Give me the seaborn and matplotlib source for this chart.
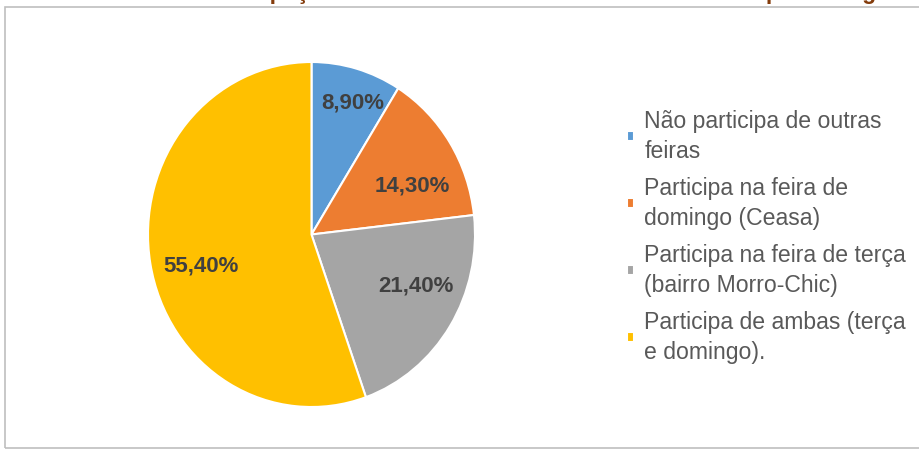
import matplotlib
matplotlib.use("Agg")
import numpy as np
import matplotlib.pyplot as plt
import matplotlib.patches as mpatches
import seaborn as sns

categories = [
    "Não participa de outras\nfeiras",
    "Participa na feira de\ndomingo (Ceasa)",
    "Participa na feira de terça\n(bairro Morro-Chic)",
    "Participa de ambas (terça\ne domingo).",
]
values = [8.9, 14.3, 21.4, 55.4]
colors = ["#5B9BD5", "#ED7D31", "#A5A5A5", "#FFC000"]
title = "Gráfico 3 – Participação em outras feiras dos entrevistados em porcentagem"

# placement of the percentage labels: fraction of radius and angle shift (deg), per wedge
label_radius = [0.81, 0.68, 0.70, 0.70]
label_shift = [-2, -7.5, 7.5, 5]

sns.set_theme(style="white")
plt.rcParams["font.family"] = ["Liberation Sans", "DejaVu Sans"]

fig = plt.figure(figsize=(9.2, 4.56), dpi=100)
fig.patch.set_facecolor("white")

# outer chart frame
frame = mpatches.Rectangle((5 / 920, 7 / 456), 2.0, 441 / 456, transform=fig.transFigure,
                           fill=False, edgecolor="#BFBFBF", linewidth=1.2, clip_on=False)
fig.patches.append(frame)

# cut-off title at the very top
fig.text(75 / 920, 1 + 1 / 456, title, ha="left", va="baseline", fontsize=16.5,
         fontweight="bold", color="#843C0C")

ax = fig.add_axes([148 / 920, 48 / 456, 327 / 920, 345 / 456])
wedges, texts, autotexts = ax.pie(
    values, colors=colors, startangle=90, counterclock=False,
    autopct=lambda p: f"{p:.2f}%".replace(".", ","), pctdistance=0.72,
    wedgeprops=dict(edgecolor="white", linewidth=1.5),
    textprops=dict(fontsize=16, fontweight="bold", color="#404040"),
)
for w, t, r, s in zip(wedges, autotexts, label_radius, label_shift):
    ang = np.deg2rad((w.theta1 + w.theta2) / 2 + s)
    t.set_position((r * np.cos(ang), r * np.sin(ang)))
ax.set_aspect("auto")
ax.set_xlim(-1, 1)
ax.set_ylim(-1, 1)
ax.axis("off")

leg = fig.legend(wedges, categories, loc="upper left", bbox_to_anchor=(627 / 920, 1 - 110 / 456),
                 frameon=False, fontsize=16.6, handlelength=0.3, handleheight=0.3,
                 handletextpad=0.45, labelspacing=0.6, labelcolor="#595959",
                 borderaxespad=0, borderpad=0)
for t in leg.get_texts():
    t.set_linespacing(1.4)
plt.savefig("out.png", dpi=100, facecolor="white")
